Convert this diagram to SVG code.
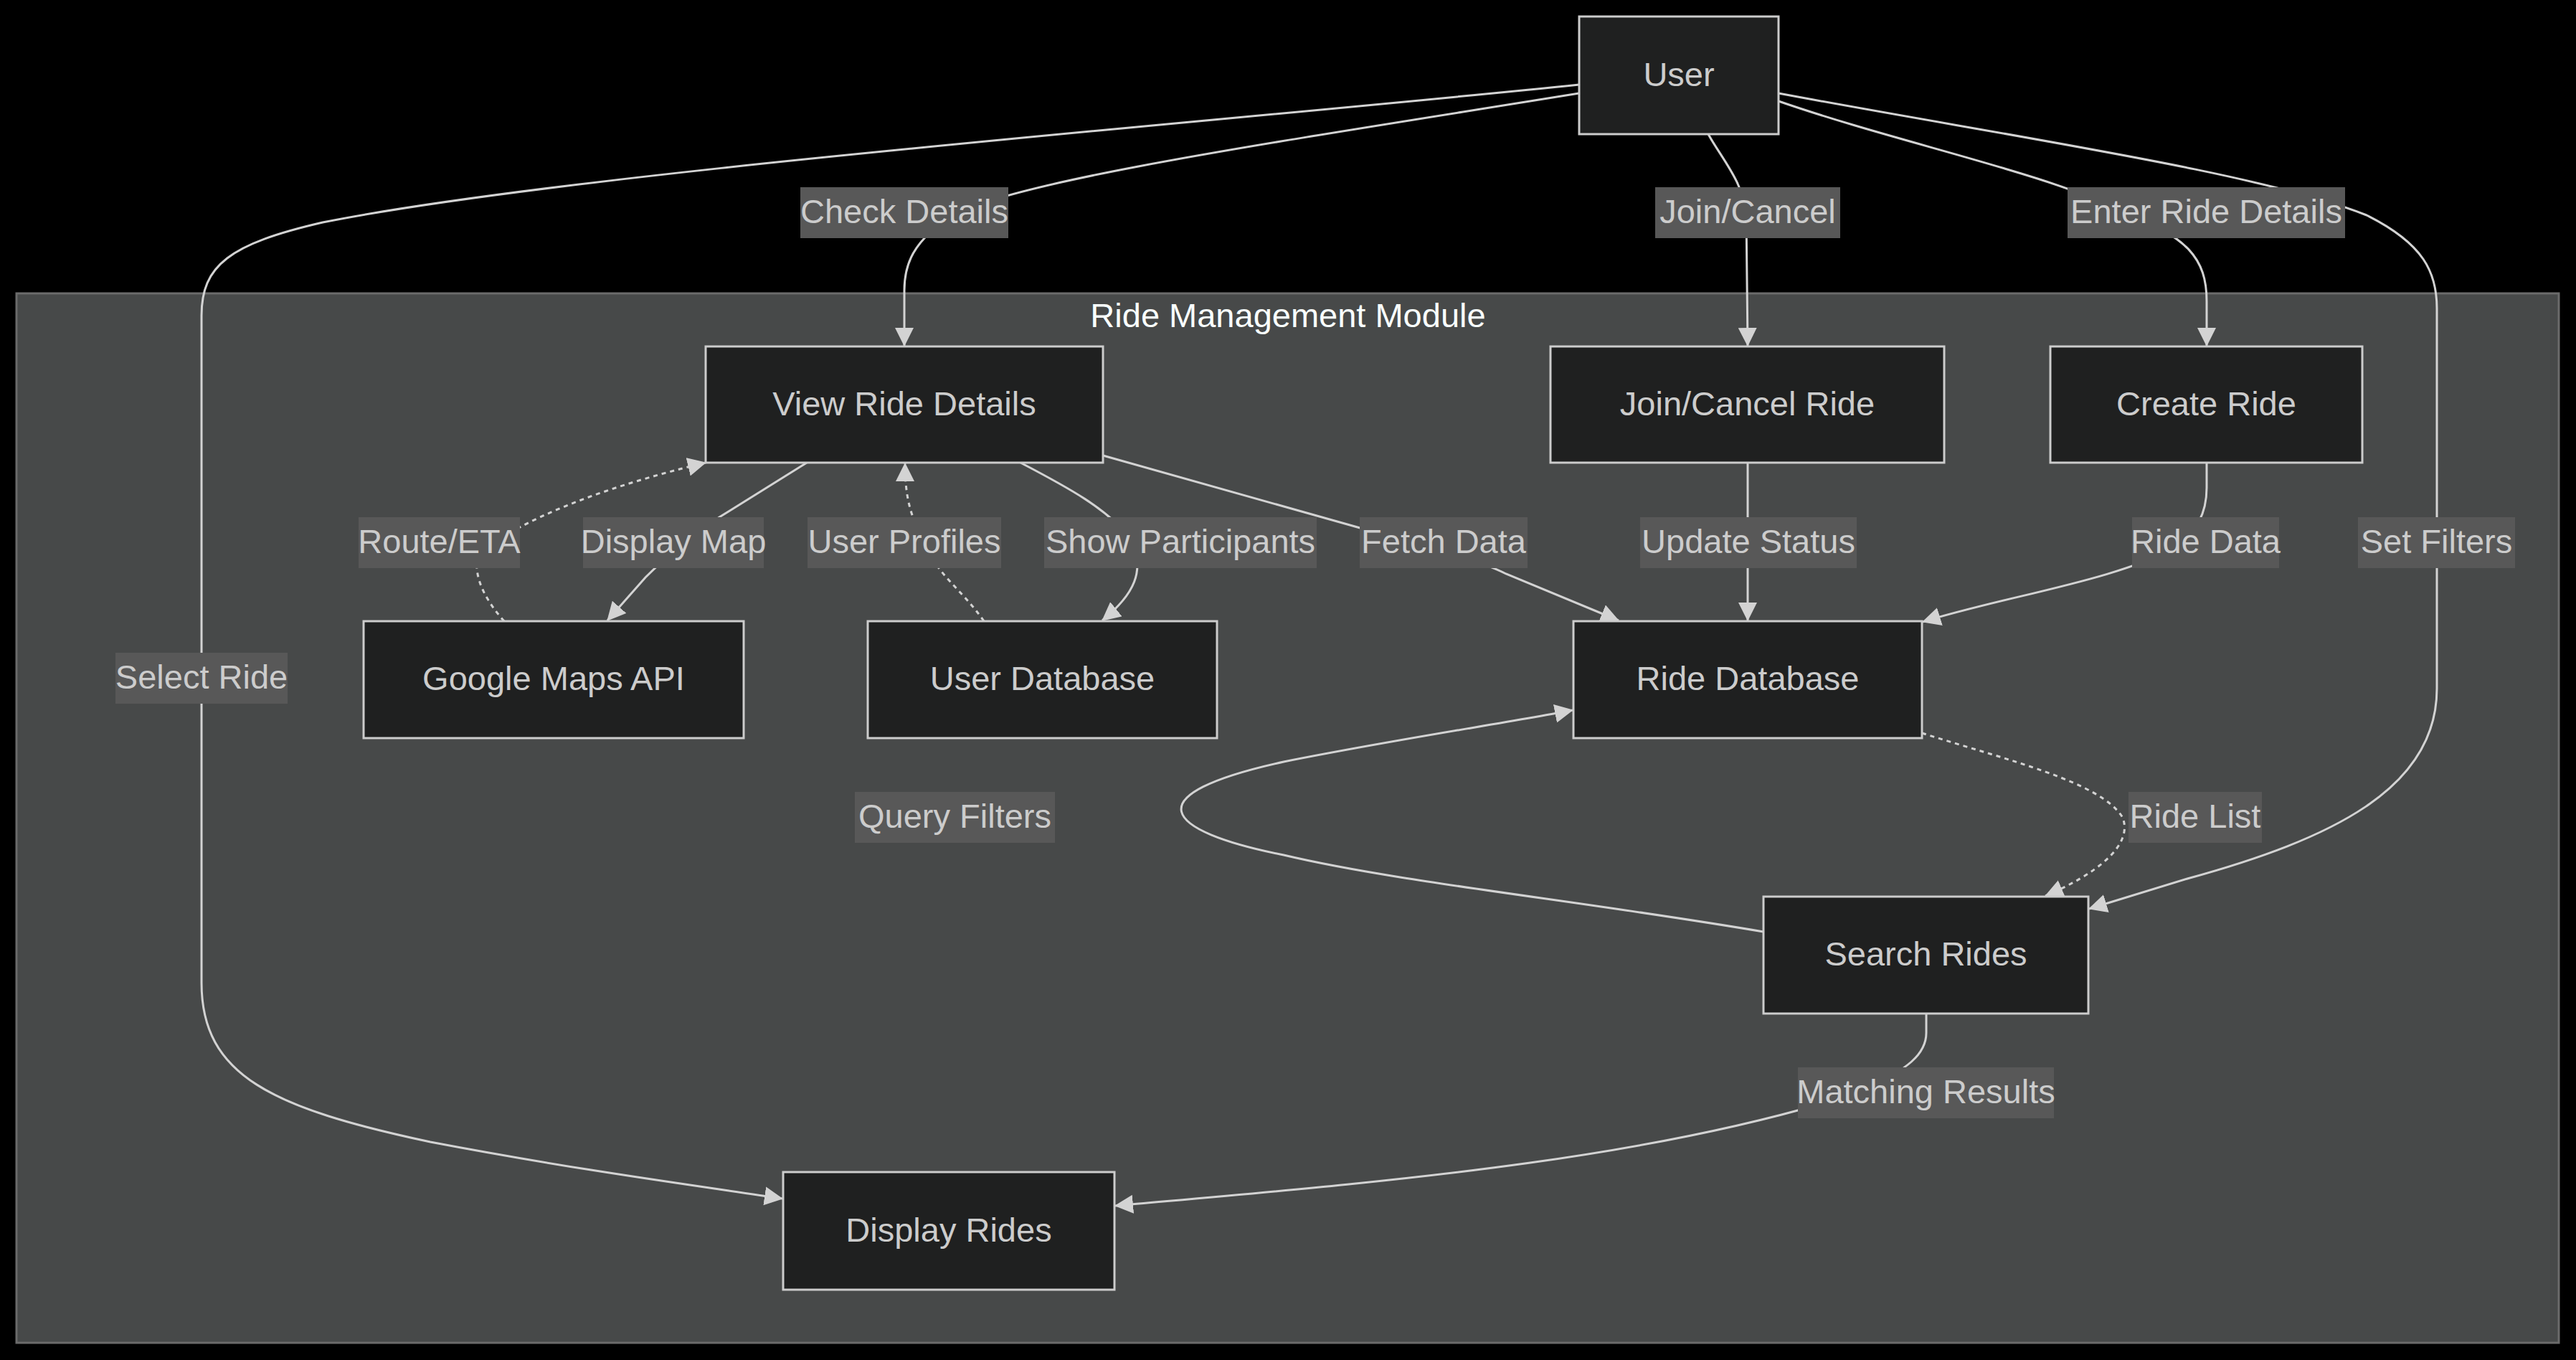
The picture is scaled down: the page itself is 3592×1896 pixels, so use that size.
<svg xmlns="http://www.w3.org/2000/svg" width="3592" height="1896" viewBox="0 0 3592 1896">
<style>
.bg{fill:#000000}
.cluster{fill:#474949;stroke:#6b6b6b;stroke-width:3}
.title{fill:#F9FFFE;font-family:"Liberation Sans",Arial,sans-serif;font-size:47px;text-anchor:middle}
.node rect{fill:#1f2020;stroke:#cccccc;stroke-width:3}
.node text{fill:#cccccc;font-family:"Liberation Sans",Arial,sans-serif;font-size:47px;text-anchor:middle}
.edge{fill:none;stroke:#d3d3d3;stroke-width:3}
.dot{stroke-dasharray:6 6}
.elabel rect{fill:#585858}
.elabel text{fill:#cccccc;font-family:"Liberation Sans",Arial,sans-serif;font-size:47px;text-anchor:middle}
</style>
<defs>
<marker id="arr" markerUnits="userSpaceOnUse" markerWidth="26" markerHeight="26" viewBox="0 0 26 26" refX="25" refY="13" orient="auto">
<path d="M0,0 L26,13 L0,26 z" fill="#d3d3d3"/>
</marker>
</defs>
<rect class="bg" x="0" y="0" width="3592" height="1896"/>
<g id="cluster-ride-management">
<rect class="cluster" x="23" y="409" width="3545" height="1463"/>
<text class="title" x="1796" y="456">Ride Management Module</text>
</g>
<g id="connectors">
<path class="edge" marker-end="url(#arr)" d="M2202,130 C1800,195 1420,250 1330,300 C1272,335 1261,370 1261,405 L1261,482"/>
<path class="edge" marker-end="url(#arr)" d="M2202,118 C1700,170 800,240 450,310 C320,340 281,370 281,440 L281,1370 C281,1500 380,1545 600,1592 C800,1630 950,1650 1091,1671"/>
<path class="edge" marker-end="url(#arr)" d="M2382,187 C2400,220 2432,255 2435,300 L2437,482"/>
<path class="edge" marker-end="url(#arr)" d="M2480,141 C2650,200 2850,240 2960,295 C3050,330 3077,360 3077,420 L3077,482"/>
<path class="edge" marker-end="url(#arr)" d="M2480,130 C2800,190 3150,240 3300,300 C3380,340 3398,380 3398,430 L3398,960 C3398,1100 3250,1170 3050,1225 L2913,1267"/>
<path class="edge" marker-end="url(#arr)" d="M1125,645 L1003,721 C960,750 925,780 900,805 L847,865"/>
<path class="edge dot" marker-end="url(#arr)" d="M703,866 C680,840 662,810 665,780 C680,760 700,745 725,735 C800,695 900,665 984,645"/>
<path class="edge" marker-end="url(#arr)" d="M1423,645 C1490,680 1545,710 1575,750 C1600,795 1580,830 1537,865"/>
<path class="edge dot" marker-end="url(#arr)" d="M1372,866 C1340,820 1305,800 1292,760 C1268,720 1262,690 1262,646"/>
<path class="edge" marker-end="url(#arr)" d="M1538,635 L1900,737 C2000,765 2060,780 2100,800 L2257,865"/>
<path class="edge" marker-end="url(#arr)" d="M2437,645 L2437,865"/>
<path class="edge" marker-end="url(#arr)" d="M3077,645 L3077,680 C3077,720 3060,740 3040,760 C2950,810 2800,830 2681,867"/>
<path class="edge" marker-end="url(#arr)" d="M2459,1299 C2200,1255 1950,1230 1790,1192 C1620,1158 1580,1108 1790,1062 C1950,1030 2100,1008 2193,990"/>
<path class="edge dot" marker-end="url(#arr)" d="M2680,1022 C2800,1060 2930,1090 2960,1140 C2975,1180 2920,1220 2852,1249"/>
<path class="edge" marker-end="url(#arr)" d="M2686,1413 L2686,1440 C2686,1470 2660,1490 2600,1520 C2300,1620 1900,1650 1555,1681"/>
</g>
<g id="edge-labels">
<g class="elabel"><rect x="1116" y="261" width="290" height="71"/><text x="1261" y="311">Check Details</text></g>
<g class="elabel"><rect x="2308" y="261" width="258" height="71"/><text x="2437" y="311">Join/Cancel</text></g>
<g class="elabel"><rect x="2883" y="261" width="387" height="71"/><text x="3076.5" y="311">Enter Ride Details</text></g>
<g class="elabel"><rect x="500" y="721" width="225" height="71"/><text x="612.5" y="771">Route/ETA</text></g>
<g class="elabel"><rect x="813" y="721" width="252" height="71"/><text x="939" y="771">Display Map</text></g>
<g class="elabel"><rect x="1126" y="721" width="270" height="71"/><text x="1261" y="771">User Profiles</text></g>
<g class="elabel"><rect x="1456" y="721" width="380" height="71"/><text x="1646" y="771">Show Participants</text></g>
<g class="elabel"><rect x="1896" y="721" width="234" height="71"/><text x="2013" y="771">Fetch Data</text></g>
<g class="elabel"><rect x="2287" y="721" width="302" height="71"/><text x="2438" y="771">Update Status</text></g>
<g class="elabel"><rect x="2973" y="721" width="205" height="71"/><text x="3075.5" y="771">Ride Data</text></g>
<g class="elabel"><rect x="3288" y="721" width="219" height="71"/><text x="3397.5" y="771">Set Filters</text></g>
<g class="elabel"><rect x="161" y="910" width="240" height="71"/><text x="281" y="960">Select Ride</text></g>
<g class="elabel"><rect x="1192" y="1104" width="279" height="71"/><text x="1331.5" y="1154">Query Filters</text></g>
<g class="elabel"><rect x="2968" y="1104" width="186" height="71"/><text x="3061" y="1154">Ride List</text></g>
<g class="elabel"><rect x="2507" y="1488" width="357" height="71"/><text x="2685.5" y="1538">Matching Results</text></g>
</g>
<g id="node-user" class="node"><rect x="2202" y="23" width="278" height="164"/><text x="2341" y="120">User</text></g>
<g id="node-view-ride-details" class="node"><rect x="984" y="483" width="554" height="162"/><text x="1261" y="579">View Ride Details</text></g>
<g id="node-join-cancel-ride" class="node"><rect x="2162" y="483" width="549" height="162"/><text x="2436.5" y="579">Join/Cancel Ride</text></g>
<g id="node-create-ride" class="node"><rect x="2859" y="483" width="435" height="162"/><text x="3076.5" y="579">Create Ride</text></g>
<g id="node-google-maps-api" class="node"><rect x="507" y="866" width="530" height="163"/><text x="772" y="962">Google Maps API</text></g>
<g id="node-user-database" class="node"><rect x="1210" y="866" width="487" height="163"/><text x="1453.5" y="962">User Database</text></g>
<g id="node-ride-database" class="node"><rect x="2194" y="866" width="486" height="163"/><text x="2437" y="962">Ride Database</text></g>
<g id="node-search-rides" class="node"><rect x="2459" y="1250" width="453" height="163"/><text x="2685.5" y="1346">Search Rides</text></g>
<g id="node-display-rides" class="node"><rect x="1092" y="1634" width="462" height="164"/><text x="1323" y="1731">Display Rides</text></g>
</svg>
